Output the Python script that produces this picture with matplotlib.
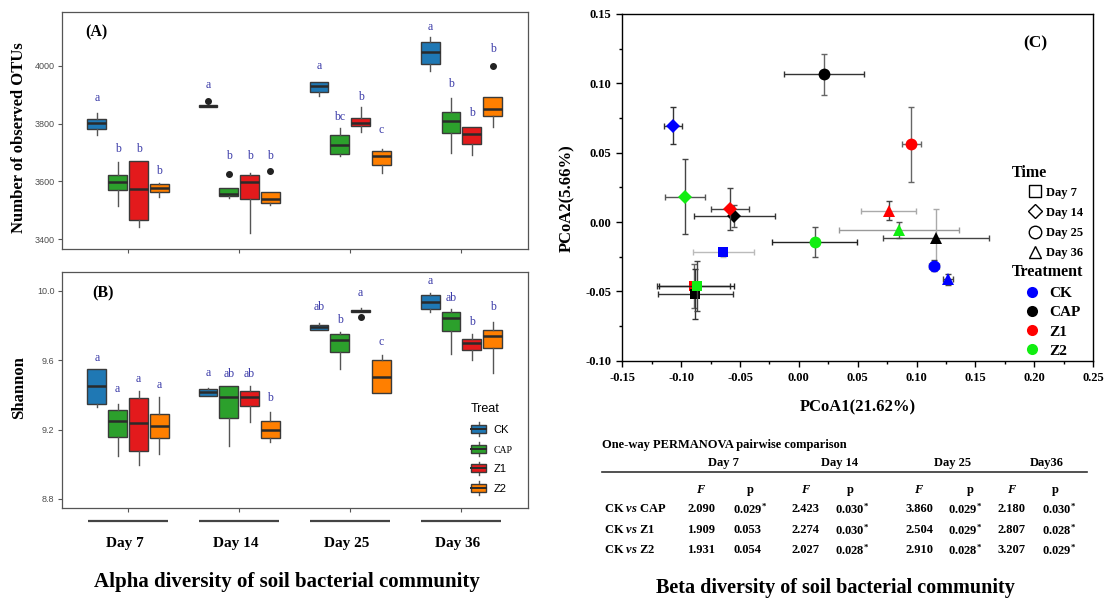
import numpy as np
import matplotlib
matplotlib.use('Agg')
import matplotlib.pyplot as plt
from matplotlib.lines import Line2D
from matplotlib.patches import Rectangle
from matplotlib.legend_handler import HandlerBase

W, H = 1110, 598
SERIF = 'Liberation Serif'
SANS = 'Liberation Sans'

plt.rcParams['font.family'] = SANS
plt.rcParams['mathtext.fontset'] = 'custom'
plt.rcParams['mathtext.rm'] = 'Liberation Serif:bold'
plt.rcParams['mathtext.it'] = 'Liberation Serif:italic:bold'
plt.rcParams['mathtext.bf'] = 'Liberation Serif:bold'

# ---------------- data ----------------
days = ['Day 7', 'Day 14', 'Day 25', 'Day 36']
treats = ['CK', 'CAP', 'Z1', 'Z2']
box_colors = ['#1f78b4', '#2ca02c', '#e31a1c', '#ff7f00']

# (whislo, q1, med, q3, whishi) per day, per treatment
otu_stats = [
    [(3761, 3783, 3803, 3818, 3836), (3514, 3572, 3598, 3622, 3668), (3443, 3467, 3573, 3670, 3670), (3545, 3562, 3576, 3590, 3595)],
    [(3857, 3857, 3861, 3866, 3866), (3543, 3549, 3558, 3579, 3579), (3420, 3538, 3598, 3621, 3628), (3518, 3526, 3539, 3562, 3562)],
    [(3896, 3911, 3931, 3943, 3943), (3688, 3695, 3726, 3761, 3786), (3770, 3792, 3803, 3821, 3859), (3628, 3658, 3689, 3706, 3713)],
    [(3983, 4007, 4047, 4082, 4099), (3699, 3769, 3809, 3840, 3890), (3691, 3731, 3766, 3788, 3790), (3790, 3828, 3851, 3894, 3894)],
]
otu_fliers = [[[], [], [], []], [[3880], [3627], [], [3636]], [[], [], [], []], [[], [], [], [4000]]]
otu_letters = [['a', 'b', 'b', 'b'], ['a', 'b', 'b', 'b'], ['a', 'bc', 'b', 'c'], ['a', 'b', 'b', 'b']]
otu_letter_y = [[3890, 3712, 3712, 3637], [3934, 3689, 3689, 3689], [4001, 3822, 3894, 3778], [4136, 3936, 3836, 4058]]

sh_stats = [
    [(9.328, 9.347, 9.451, 9.549, 9.549), (9.048, 9.158, 9.247, 9.310, 9.345), (8.996, 9.077, 9.235, 9.380, 9.422), (9.056, 9.149, 9.222, 9.289, 9.389)],
    [(9.395, 9.395, 9.416, 9.432, 9.441), (9.106, 9.264, 9.386, 9.451, 9.451), (9.245, 9.336, 9.389, 9.422, 9.451), (9.129, 9.153, 9.197, 9.249, 9.300)],
    [(9.776, 9.776, 9.790, 9.802, 9.817), (9.549, 9.649, 9.715, 9.750, 9.761), (9.877, 9.877, 9.884, 9.890, 9.900), (9.409, 9.409, 9.503, 9.603, 9.628)],
    [(9.881, 9.896, 9.938, 9.979, 9.987), (9.636, 9.767, 9.842, 9.877, 9.896), (9.603, 9.659, 9.700, 9.725, 9.750), (9.528, 9.671, 9.740, 9.775, 9.821)],
]
sh_fliers = [[[], [], [], []], [[], [], [], []], [[], [], [9.848], []], [[], [], [], []]]
sh_letters = [['a', 'a', 'a', 'a'], ['a', 'ab', 'ab', 'b'], ['ab', 'b', 'a', 'c'], ['a', 'ab', 'b', 'b']]
sh_letter_y = [[9.611, 9.432, 9.490, 9.457], [9.524, 9.518, 9.518, 9.380], [9.906, 9.832, 9.987, 9.707], [10.058, 9.958, 9.821, 9.908]]

# PCoA: treatment index, day index, PCoA1, PCoA2, errors
pc_treat = [1, 0, 2, 3, 1, 2, 2, 3, 1, 3, 0, 0, 0, 2, 1, 3]
pc_day = [2, 1, 2, 1, 1, 1, 3, 3, 3, 2, 0, 2, 3, 0, 0, 0]
pc1 = [0.0214, -0.1068, 0.0956, -0.0964, -0.0549, -0.0588, 0.0762, 0.0852, 0.1168, 0.0133, -0.0642, 0.1147, 0.1266, -0.0895, -0.0880, -0.0868]
pc2 = [0.1065, 0.0695, 0.0560, 0.0183, 0.0046, 0.0094, 0.0082, -0.0058, -0.0113, -0.0144, -0.0219, -0.0315, -0.0413, -0.0462, -0.0522, -0.0462]
pc1_err = [0.034, 0.0075, 0.008, 0.017, 0.0343, 0.016, 0.0235, 0.0508, 0.045, 0.036, 0.026, 0.004, 0.004, 0.031, 0.032, 0.032]
pc2_err = [0.0146, 0.0136, 0.027, 0.027, 0.008, 0.015, 0.007, 0.006, 0.021, 0.011, 0.003, 0.004, 0.004, 0.016, 0.018, 0.018]
ex_col = ['#333', '#333', '#666', '#555', '#333', '#444', '#aaa', '#999', '#444', '#222', '#bbb', '#444', '#444', '#333', '#333', '#222']
ey_col = ['#666', '#333', '#666', '#444', '#555', '#444', '#444', '#555', '#aaa', '#555', '#bbb', '#444', '#444', '#666', '#333', '#444']
pc_colors = ['#0000ff', '#000000', '#ff0000', '#11ee11']
day_markers = ['s', 'D', 'o', '^']
day_ms = [7.5, 7, 8.5, 8.5]

perm_days = ['Day 7', 'Day 14', 'Day 25', 'Day36']
perm_pairs = [('CK', 'CAP'), ('CK', 'Z1'), ('CK', 'Z2')]
perm_F = [[2.090, 2.423, 3.860, 2.180], [1.909, 2.274, 2.504, 2.807], [1.931, 2.027, 2.910, 3.207]]
perm_p = [[0.029, 0.030, 0.029, 0.030], [0.053, 0.030, 0.029, 0.028], [0.054, 0.028, 0.028, 0.029]]


def fx(x):
    return x / W


def fy(y):
    return 1 - y / H


def add_ax(fig, left, top, right, bottom):
    return fig.add_axes([fx(left), fy(bottom), (right - left) / W, (bottom - top) / H])


class BoxKey(HandlerBase):
    def create_artists(self, legend, orig, xd, yd, w, h, fontsize, trans):
        x0, y0 = -xd, -yd
        cx = x0 + w / 2
        whisk = Line2D([cx, cx], [y0 - 0.2 * h, y0 + 1.2 * h], color='#555555', lw=1, transform=trans)
        box = Rectangle((x0, y0 + 0.1 * h), w, 0.8 * h, facecolor=orig.get_facecolor(),
                        edgecolor='#3a3a3a', lw=1, transform=trans)
        med = Line2D([x0, x0 + w], [y0 + h / 2] * 2, color='#2a2a2a', lw=1.4, transform=trans)
        return [whisk, box, med]


def draw_boxes(ax, stats, fliers, letters, letter_y):
    for d in range(4):
        for t in range(4):
            lo, q1, med, q3, hi = stats[d][t]
            pos = d + 1 + (t - 1.5) * 0.1875
            s = dict(whislo=lo, q1=q1, med=med, q3=q3, whishi=hi, fliers=np.array(fliers[d][t]))
            ax.bxp([s], positions=[pos], widths=0.17, patch_artist=True, showcaps=False,
                   boxprops=dict(facecolor=box_colors[t], edgecolor='#3a3a3a', linewidth=1),
                   medianprops=dict(color='#2a2a2a', linewidth=1.8),
                   whiskerprops=dict(color='#555555', linewidth=1),
                   flierprops=dict(marker='o', markerfacecolor='#222222', markeredgecolor='#222222', markersize=4))
            ax.text(pos, letter_y[d][t], letters[d][t], ha='center', va='center',
                    family=SERIF, fontsize=8.5, color='#3b3ba8')


def style_box_axes(ax):
    ax.set_xlim(0.4, 4.6)
    ax.set_xticks([1, 2, 3, 4])
    ax.set_xticklabels([])
    ax.tick_params(axis='both', direction='out', length=3, width=0.8, color='#555555',
                   labelsize=6.5, labelcolor='#4d4d4d', pad=2)
    for sp in ax.spines.values():
        sp.set_color('#555555')
        sp.set_linewidth(0.9)


fig = plt.figure(figsize=(W / 100, H / 100), dpi=100)
fig.patch.set_facecolor('white')

# ---- (A) observed OTUs ----
axa = add_ax(fig, 61.5, 12.3, 528, 249.3)
draw_boxes(axa, otu_stats, otu_fliers, otu_letters, otu_letter_y)
style_box_axes(axa)
axa.set_ylim(3365, 4186)
axa.set_yticks([3400, 3600, 3800, 4000])
axa.text(0.075, 0.915, '(A)', transform=axa.transAxes, family=SERIF, weight='bold', fontsize=11.5,
         ha='center', va='center')
fig.text(fx(19), fy(138), 'Number of observed OTUs', rotation=90, ha='center', va='center',
         family=SERIF, weight='bold', fontsize=12)

# ---- (B) Shannon ----
axb = add_ax(fig, 61.5, 272.3, 528, 508.3)
draw_boxes(axb, sh_stats, sh_fliers, sh_letters, sh_letter_y)
style_box_axes(axb)
axb.set_ylim(8.745, 10.108)
axb.set_yticks([8.8, 9.2, 9.6, 10.0])
axb.set_yticklabels(['%.1f' % v for v in [8.8, 9.2, 9.6, 10.0]])
axb.text(0.088, 0.91, '(B)', transform=axb.transAxes, family=SERIF, weight='bold', fontsize=11.5,
         ha='center', va='center')
fig.text(fx(19), fy(388), 'Shannon', rotation=90, ha='center', va='center',
         family=SERIF, weight='bold', fontsize=12)

handles = [Rectangle((0, 0), 1, 1, facecolor=c) for c in box_colors]
leg = axb.legend(handles, treats, title='Treat', loc='upper left', bbox_to_anchor=(0.878, 0.445),
                 frameon=False, handler_map={Rectangle: BoxKey()}, alignment='left',
                 prop=dict(family=SANS, size=8), title_fontproperties=dict(family=SANS, size=9),
                 handlelength=1.35, handleheight=1.0, labelspacing=0.8, handletextpad=0.7,
                 borderpad=0, borderaxespad=0)
leg.get_texts()[1].set_fontfamily(SERIF)
leg.get_texts()[1].set_fontsize(7)

# ---- day labels under alpha panels ----
axd = add_ax(fig, 61.5, 510, 528, 598)
axd.set_xlim(0.4, 4.6)
axd.set_ylim(88, 0)
axd.axis('off')
groups = np.arange(1, 5)
axd.hlines([10.7] * 4, groups - 0.36, groups + 0.36, color='#444444', lw=1.6)
for g, d in zip(groups, days):
    axd.text(g - 0.03, 34, d, ha='center', va='center', family=SERIF, weight='bold', fontsize=11)
fig.text(fx(287), fy(582), 'Alpha diversity of soil bacterial community', ha='center', va='center',
         family=SERIF, weight='bold', fontsize=15)

# ---- (C) PCoA ----
axc = add_ax(fig, 622.4, 14, 1093, 360.7)
for i in range(len(pc1)):
    t, d = pc_treat[i], pc_day[i]
    axc.errorbar(pc1[i], pc2[i], xerr=pc1_err[i], fmt='none', ecolor=ex_col[i], elinewidth=1,
                 capsize=2.5, capthick=1, zorder=2 + i * 0.1)
    axc.errorbar(pc1[i], pc2[i], yerr=pc2_err[i], fmt='none', ecolor=ey_col[i], elinewidth=1,
                 capsize=2.5, capthick=1, zorder=2 + i * 0.1)
    axc.plot(pc1[i], pc2[i], marker=day_markers[d], ms=day_ms[d], color=pc_colors[t], mew=0,
             ls='none', zorder=2.05 + i * 0.1)
axc.set_xlim(-0.15, 0.25)
axc.set_ylim(-0.10, 0.15)
xt = [-0.15, -0.10, -0.05, 0.0, 0.05, 0.10, 0.15, 0.20, 0.25]
yt = [-0.10, -0.05, 0.0, 0.05, 0.10, 0.15]
axc.set_xticks(xt)
axc.set_xticklabels(['%.2f' % v for v in xt])
axc.set_yticks(yt)
axc.set_yticklabels(['%.2f' % v for v in yt])
axc.set_xticks(np.array(xt[:-1]) + 0.025, minor=True)
axc.set_yticks(np.array(yt[:-1]) + 0.025, minor=True)
axc.tick_params(which='major', direction='out', length=4, width=1, pad=4)
axc.tick_params(which='minor', direction='out', length=2.5, width=1)
for lbl in axc.get_xticklabels() + axc.get_yticklabels():
    lbl.set_fontfamily(SERIF)
    lbl.set_fontweight('bold')
    lbl.set_fontsize(9)
for sp in axc.spines.values():
    sp.set_linewidth(1)
axc.text(0.878, 0.916, '(C)', transform=axc.transAxes, family=SERIF, weight='bold', fontsize=12.5,
         ha='center', va='center')
fig.text(fx(858), fy(407), 'PCoA1(21.62%)', ha='center', va='center', family=SERIF, weight='bold', fontsize=12)
fig.text(fx(567), fy(198), 'PCoA2(5.66%)', rotation=90, ha='center', va='center', family=SERIF,
         weight='bold', fontsize=12)

time_h = [Line2D([], [], ls='none', marker=m, ms=s, mfc='white', mec='black', mew=1)
          for m, s in zip(day_markers, [8, 7.5, 9, 9])]
leg1 = axc.legend(time_h, days, loc='upper left', bbox_to_anchor=(0.863, 0.502), frameon=False,
                  prop=dict(family=SERIF, weight='bold', size=9), handlelength=1.0,
                  handletextpad=0.4, labelspacing=0.65, borderpad=0, borderaxespad=0)
axc.add_artist(leg1)
treat_h = [Line2D([], [], ls='none', marker='o', ms=8, color=c, mew=0) for c in pc_colors]
leg2 = axc.legend(treat_h, treats, loc='upper left', bbox_to_anchor=(0.855, 0.214), frameon=False,
                  prop=dict(family=SERIF, weight='bold', size=11), handlelength=1.0,
                  handletextpad=0.6, labelspacing=0.36, borderpad=0, borderaxespad=0)
axc.text(0.828, 0.541, 'Time', transform=axc.transAxes, family=SERIF, weight='bold', fontsize=11.5,
         ha='left', va='center')
axc.text(0.828, 0.2567, 'Treatment', transform=axc.transAxes, family=SERIF, weight='bold', fontsize=11.5,
         ha='left', va='center')

# ---- PERMANOVA table ----
tk = dict(family=SERIF, weight='bold', fontsize=9, va='center')
day_x = [723, 840, 953, 1047]
F_x = [701, 806, 919, 1012]
p_x = [750, 850, 970, 1055]
p_left = [733, 835, 948, 1042]
fig.text(fx(602), fy(445), 'One-way PERMANOVA pairwise comparison', ha='left', **tk)
for j, d in enumerate(perm_days):
    fig.text(fx(day_x[j]), fy(463), d, ha='center', **tk)
    fig.text(fx(F_x[j]), fy(490), r'$\mathit{F}$', ha='center', **tk)
    fig.text(fx(p_x[j]), fy(490), 'p', ha='center', **tk)
fig.add_artist(Line2D([fx(602), fx(1087)], [fy(472), fy(472)], color='#333333', lw=1.2))
row_y = [509, 530, 550]
for i, (a, b) in enumerate(perm_pairs):
    fig.text(fx(604), fy(row_y[i]), a + r' $\mathit{vs}$ ' + b, ha='left', **tk)
    for j in range(4):
        fig.text(fx(F_x[j]), fy(row_y[i]), '%.3f' % perm_F[i][j], ha='center', **tk)
        star = r'$^{*}$' if perm_p[i][j] < 0.05 else ''
        fig.text(fx(p_left[j]), fy(row_y[i]), '%.3f' % perm_p[i][j] + star, ha='left', **tk)
fig.text(fx(835), fy(588), 'Beta diversity of soil bacterial community', ha='center', va='center',
         family=SERIF, weight='bold', fontsize=14.5)

fig.savefig('out.png', dpi=100, facecolor='white')
